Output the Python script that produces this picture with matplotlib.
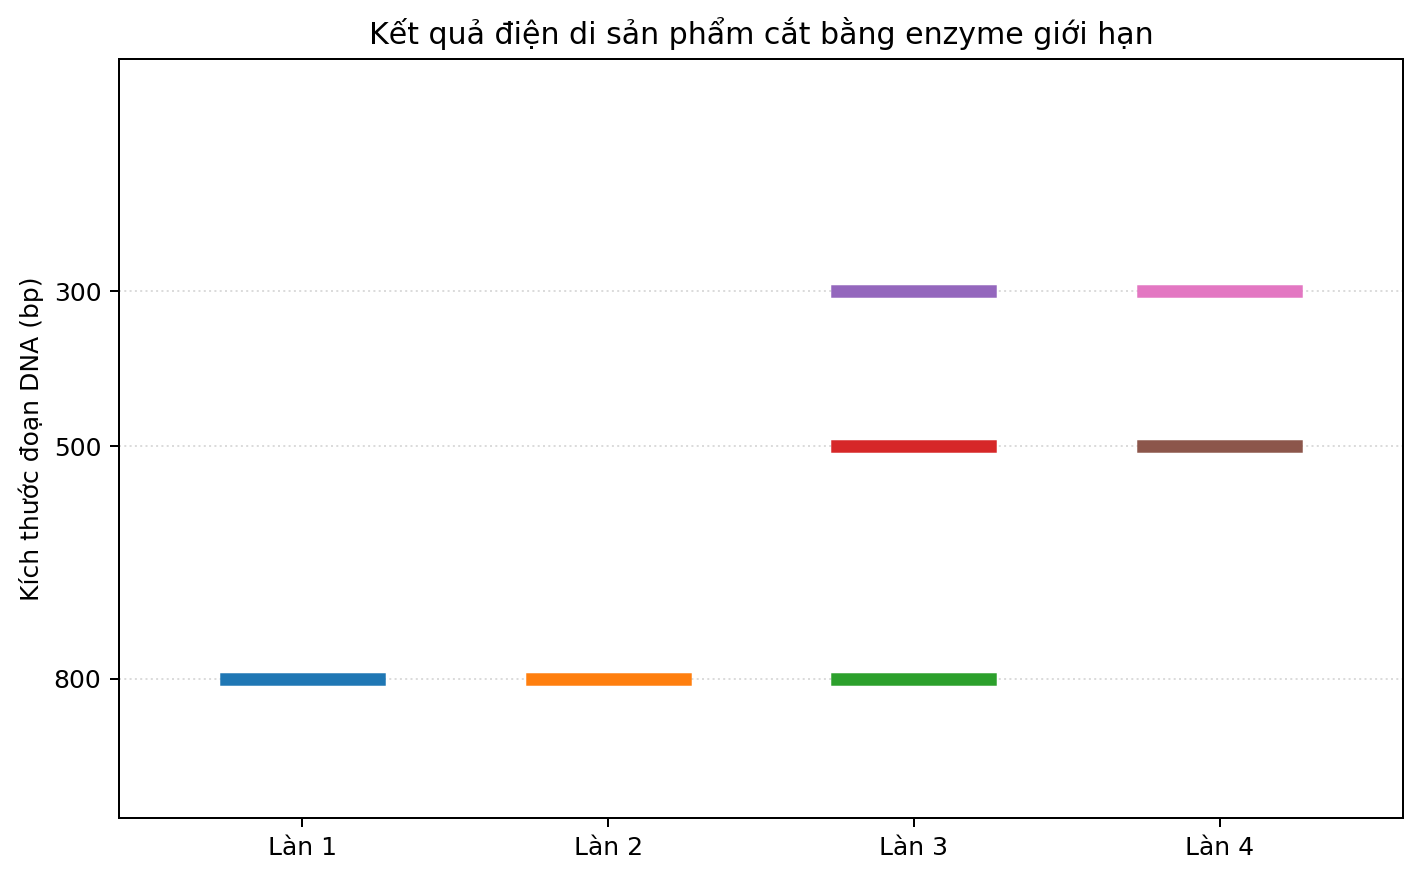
#!/usr/bin/env python3
'''
Gel-style plot of restriction digest fragments per lane.
'''

import matplotlib
matplotlib.use('Agg')
import matplotlib.pyplot as plt

lanes = ['Làn 1', 'Làn 2', 'Làn 3', 'Làn 4']
# fragment sizes (bp) per lane, in drawing order
fragments = [
    [800],
    [800],
    [800, 500, 300],
    [500, 300],
]
yticks = [300, 500, 800]

dpi = 180

if __name__ == "__main__":
    fig = plt.figure(figsize=(1421 / dpi, 878 / dpi), dpi=dpi)
    ax = fig.add_axes([119 / 1421, 1 - 818 / 878, (1403 - 119) / 1421, (818 - 59) / 878])

    for i, sizes in enumerate(fragments):
        for s in sizes:
            ax.plot([i - 0.25, i + 0.25], [s, s], linewidth=5)

    ax.set_xticks(range(len(lanes)))
    ax.set_xticklabels(lanes)
    ax.set_xlim(-0.6, len(lanes) - 0.4)
    ax.set_yticks(yticks)
    ax.set_ylim(980, 0)
    ax.grid(axis='y', linestyle=':', color='lightgray', alpha=0.8, linewidth=0.8)
    ax.set_ylabel('Kích thước đoạn DNA (bp)')
    ax.set_title('Kết quả điện di sản phẩm cắt bằng enzyme giới hạn')

    fig.savefig('out.png', dpi=dpi)
    print('Generated: out.png')
